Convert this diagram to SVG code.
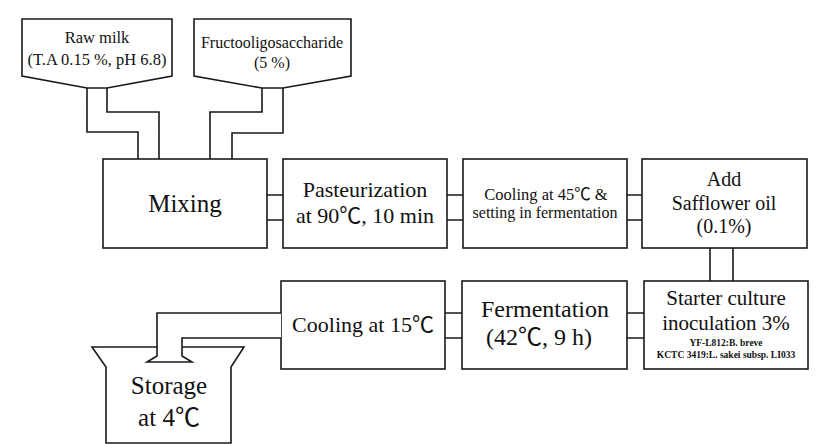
<svg xmlns="http://www.w3.org/2000/svg" width="827" height="444" viewBox="0 0 827 444">
<style>
.b{fill:#fff;stroke:#1a1a1a;stroke-width:1.6}
.c{fill:none;stroke:#1a1a1a;stroke-width:1.6}
text{fill:#111;text-anchor:middle}
</style>
<rect width="827" height="444" fill="#fff"/>
<g font-family="'Liberation Serif','Noto Sans CJK KR',serif">
<g id="connectors">
<path class="c" d="M87,88 V132 H138 V159 M107,88 V112 H159 V159"/>
<path class="c" d="M262,88 V112 H210 V159 M283,88 V133 H232 V159"/>
<path class="c" d="M267,195 H283 M267,220 H283"/>
<path class="c" d="M447,195 H463 M447,220 H463"/>
<path class="c" d="M627,195 H642 M627,220 H642"/>
<path class="c" d="M710,248 V281 M733,248 V281"/>
<path class="c" d="M627,313 H644 M627,338 H644"/>
<path class="c" d="M445,313 H462 M445,338 H462"/>
</g>
<g id="rawmilk">
<path class="b" d="M22,19 H172 V76 L107,88 H87 L22,76 Z"/>
<text x="97" y="43" font-size="16.5">Raw milk</text>
<text x="97" y="65" font-size="16.5">(T.A 0.15 %, pH 6.8)</text>
</g>
<g id="fos">
<path class="b" d="M194,19 H351 V76 L283,88 H262 L194,76 Z"/>
<text x="272" y="48" font-size="16">Fructooligosaccharide</text>
<text x="272" y="68" font-size="16">(5 %)</text>
</g>
<g id="mixing">
<rect class="b" x="103" y="159" width="164" height="89"/>
<text x="185" y="212" font-size="25">Mixing</text>
</g>
<g id="pasteurization">
<rect class="b" x="283" y="159" width="164" height="89"/>
<text x="365" y="197" font-size="22">Pasteurization</text>
<text x="365" y="223" font-size="22">at 90℃, 10 min</text>
</g>
<g id="cooling45">
<rect class="b" x="463" y="159" width="164" height="89"/>
<text x="546" y="200" font-size="16.5">Cooling at 45℃ &amp;</text>
<text x="545" y="218" font-size="16">setting in fermentation</text>
</g>
<g id="addoil">
<rect class="b" x="642" y="159" width="165" height="89"/>
<text x="724" y="186" font-size="20">Add</text>
<text x="724" y="210" font-size="20">Safflower oil</text>
<text x="724" y="233" font-size="20">(0.1%)</text>
</g>
<g id="starter">
<rect class="b" x="644" y="281" width="164" height="88"/>
<text x="726" y="305" font-size="21">Starter culture</text>
<text x="726" y="330" font-size="21">inoculation 3%</text>
<text x="726" y="346" font-size="9.5" font-weight="bold">YF-L812:B. breve</text>
<text x="726" y="358" font-size="9.5" font-weight="bold">KCTC 3419:L. sakei subsp. LI033</text>
</g>
<g id="fermentation">
<rect class="b" x="462" y="281" width="165" height="88"/>
<text x="545" y="317" font-size="24">Fermentation</text>
<text x="539" y="345" font-size="24">(42℃, 9 h)</text>
</g>
<g id="cooling15">
<rect class="b" x="281" y="281" width="164" height="88"/>
<text x="363" y="332" font-size="22">Cooling at 15℃</text>
</g>
<g id="storage">
<path class="b" d="M92,347 H244 L231,367 V443 H106 V367 Z"/>
<path class="b" d="M281,313 H157 V356 L147,362 H192 L182,356 V338 H281"/>
<text x="169" y="394" font-size="25">Storage</text>
<text x="169" y="426" font-size="25">at 4℃</text>
</g>
</g>
</svg>
